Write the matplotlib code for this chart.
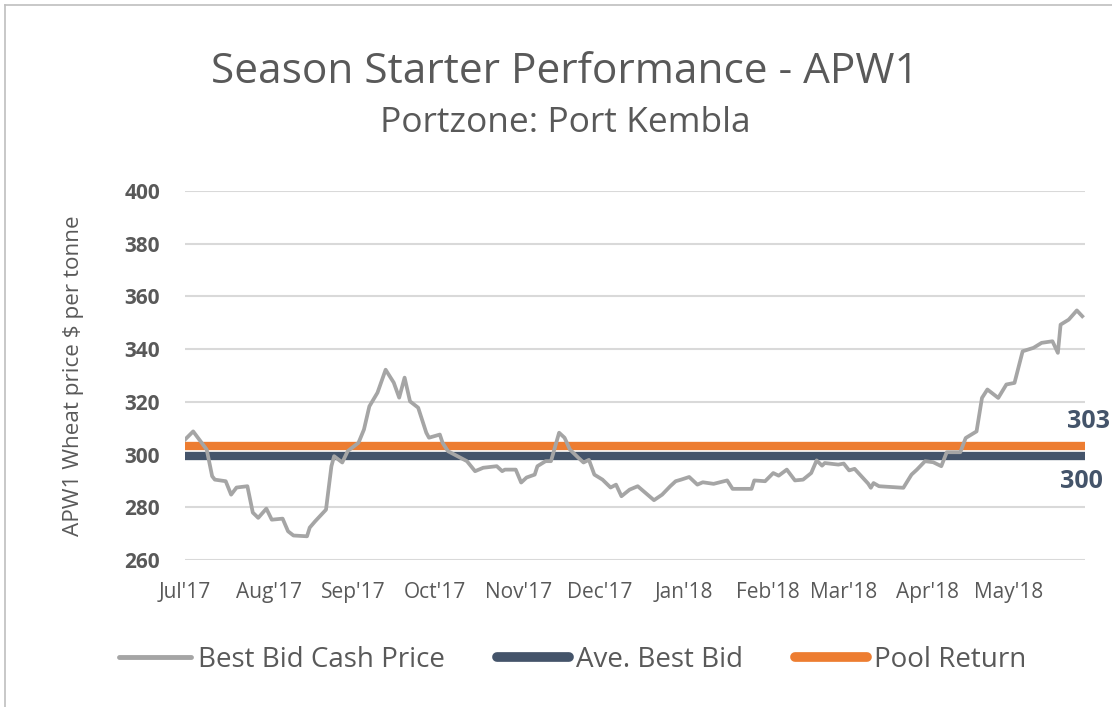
import numpy as np
import pandas as pd
import matplotlib
matplotlib.use("Agg")
import matplotlib.pyplot as plt
import matplotlib.dates as mdates
from matplotlib.lines import Line2D

# -------------------------------
# Data
# -------------------------------
price_dates = [
    "2017-07-01", "2017-07-04", "2017-07-09", "2017-07-11", "2017-07-12", "2017-07-16",
    "2017-07-18", "2017-07-20", "2017-07-24", "2017-07-26", "2017-07-28", "2017-07-31",
    "2017-08-02", "2017-08-06", "2017-08-08", "2017-08-10", "2017-08-15", "2017-08-16",
    "2017-08-18", "2017-08-22", "2017-08-24", "2017-08-25", "2017-08-28", "2017-08-30",
    "2017-09-03", "2017-09-05", "2017-09-07", "2017-09-10", "2017-09-13", "2017-09-16",
    "2017-09-18", "2017-09-20", "2017-09-22", "2017-09-25", "2017-09-28", "2017-09-29",
    "2017-10-03", "2017-10-04", "2017-10-06", "2017-10-13", "2017-10-16", "2017-10-19",
    "2017-10-24", "2017-10-26", "2017-10-27", "2017-10-31", "2017-11-02", "2017-11-04",
    "2017-11-07", "2017-11-08", "2017-11-11", "2017-11-13", "2017-11-16", "2017-11-18",
    "2017-11-20", "2017-11-23", "2017-11-25", "2017-11-27", "2017-11-29", "2017-12-02",
    "2017-12-05", "2017-12-07", "2017-12-09", "2017-12-12", "2017-12-15", "2017-12-21",
    "2017-12-24", "2017-12-27", "2017-12-29", "2017-12-31", "2018-01-03", "2018-01-06",
    "2018-01-08", "2018-01-12", "2018-01-17", "2018-01-19", "2018-01-26", "2018-01-27",
    "2018-01-31", "2018-02-03", "2018-02-05", "2018-02-08", "2018-02-11", "2018-02-14",
    "2018-02-17", "2018-02-19", "2018-02-21", "2018-02-22", "2018-02-27", "2018-03-01",
    "2018-03-03", "2018-03-05", "2018-03-10", "2018-03-11", "2018-03-12", "2018-03-14",
    "2018-03-23", "2018-03-26", "2018-03-28", "2018-03-31", "2018-04-03", "2018-04-06",
    "2018-04-08", "2018-04-13", "2018-04-15", "2018-04-19", "2018-04-21", "2018-04-23",
    "2018-04-27", "2018-04-30", "2018-05-03", "2018-05-06", "2018-05-10", "2018-05-13",
    "2018-05-17", "2018-05-19", "2018-05-20", "2018-05-23", "2018-05-26", "2018-05-28",
]
best_bid_cash_price = [
    305.7, 308.8, 301.9, 291.8, 290.5, 289.9,
    284.8, 287.5, 288.0, 278.0, 276.0, 279.5,
    275.3, 275.7, 270.9, 269.3, 269.0, 272.3,
    274.7, 279.1, 295.6, 299.4, 297.0, 301.3,
    304.5, 309.5, 318.3, 323.5, 332.2, 327.3,
    321.6, 329.2, 320.2, 317.8, 308.3, 306.4,
    307.6, 304.5, 301.3, 297.5, 293.7, 295.0,
    295.6, 293.7, 294.3, 294.3, 289.4, 291.3,
    292.4, 295.6, 297.5, 297.5, 308.3, 306.4,
    301.9, 298.9, 297.0, 298.0, 292.4, 290.5,
    287.5, 288.6, 284.2, 286.7, 288.0, 282.7,
    284.8, 288.0, 289.9, 290.5, 291.5, 288.6,
    289.5, 288.9, 290.2, 287.0, 287.0, 290.2,
    289.9, 293.0, 292.0, 294.3, 290.2, 290.5,
    293.0, 297.8, 295.8, 296.8, 296.2, 296.6,
    294.0, 294.6, 289.0, 287.4, 289.2, 288.0,
    287.4, 292.4, 294.3, 297.5, 297.1, 295.6,
    300.9, 300.9, 306.3, 308.8, 321.5, 324.7,
    321.5, 326.6, 327.2, 339.2, 340.5, 342.4,
    343.0, 338.6, 349.3, 351.2, 354.7, 352.5,
]
ave_best_bid = 299.4
pool_return = 303.2
ave_best_bid_label = "300"
pool_return_label = "303"

y_ticks = [260, 280, 300, 320, 340, 360, 380, 400]
month_ticks = ["2017-07-01", "2017-08-01", "2017-09-01", "2017-10-01", "2017-11-01",
               "2017-12-01", "2018-01-01", "2018-02-01", "2018-03-01", "2018-04-01",
               "2018-05-01"]
month_labels = ["Jul'17", "Aug'17", "Sep'17", "Oct'17", "Nov'17", "Dec'17",
                "Jan'18", "Feb'18", "Mar'18", "Apr'18", "May'18"]

# -------------------------------
# Styling
# -------------------------------
plt.rcParams['font.family'] = ['Open Sans', 'DejaVu Sans']
GRAY_TEXT = "#595959"
GRID = "#D9D9D9"
LINE_GRAY = "#A5A5A5"
NAVY = "#44546A"
ORANGE = "#ED7D31"

fig = plt.figure(figsize=(11.12, 7.07), dpi=100)
ax = fig.add_axes([0.1664, 0.2079, 0.8093, 0.5219])

dates = pd.to_datetime(price_dates)
ax.plot(dates, best_bid_cash_price, color=LINE_GRAY, lw=2.7, solid_joinstyle="round",
        label="Best Bid Cash Price", zorder=3)
ax.axhline(ave_best_bid, color=NAVY, lw=6, label="Ave. Best Bid", zorder=2)
ax.axhline(pool_return, color=ORANGE, lw=6, label="Pool Return", zorder=2)

ax.set_xlim(pd.Timestamp("2017-07-01"), pd.Timestamp("2018-05-29"))
ax.set_ylim(260, 400)
ax.set_yticks(y_ticks)
ax.set_xticks(pd.to_datetime(month_ticks))
ax.set_xticklabels(month_labels)
ax.grid(axis="y", color=GRID, lw=1.5)
ax.set_axisbelow(True)
for s in ax.spines.values():
    s.set_visible(False)
ax.tick_params(axis="both", length=0)
ax.tick_params(axis="y", labelsize=15, labelcolor=GRAY_TEXT, pad=18)
ax.tick_params(axis="x", labelsize=15, labelcolor=GRAY_TEXT, pad=16)
for t in ax.get_yticklabels():
    t.set_fontweight("bold")
ax.set_ylabel("APW1 Wheat price $ per tonne", fontsize=16.2, color=GRAY_TEXT)
ax.yaxis.set_label_coords(-0.112, 0.5)

# end-of-line value labels
fig.text(1110 / 1112, 1 - 421 / 707, pool_return_label, ha="right", va="center",
         fontsize=18, fontweight="bold", color=NAVY)
fig.text(1103 / 1112, 1 - 482 / 707, ave_best_bid_label, ha="right", va="center",
         fontsize=18, fontweight="bold", color=NAVY)

# titles
fig.text(0.508, 0.898, "Season Starter Performance - APW1", ha="center", va="center",
         fontsize=30.5, color=GRAY_TEXT)
fig.text(0.508, 0.826, "Portzone: Port Kembla", ha="center", va="center",
         fontsize=25.5, color=GRAY_TEXT)

# legend
handles = [
    Line2D([], [], color=LINE_GRAY, lw=3.5, solid_capstyle="round"),
    Line2D([], [], color=NAVY, lw=7, solid_capstyle="round"),
    Line2D([], [], color=ORANGE, lw=7, solid_capstyle="round"),
]
fig.legend(handles, ["Best Bid Cash Price", "Ave. Best Bid", "Pool Return"],
           loc="center", bbox_to_anchor=(0.515, 0.0665), ncol=3, frameon=False,
           fontsize=20, labelcolor=GRAY_TEXT, handlelength=2.6, handletextpad=0.25,
           columnspacing=1.87)

# chart frame (left and top edges visible)
fig.add_artist(Line2D([0.0045, 0.0045], [0, 0.993], transform=fig.transFigure,
                      color="#BFBFBF", lw=1.2))
fig.add_artist(Line2D([0.0045, 1.0], [0.993, 0.993], transform=fig.transFigure,
                      color="#BFBFBF", lw=1.2))

fig.savefig("out.png", dpi=100, facecolor="white")
